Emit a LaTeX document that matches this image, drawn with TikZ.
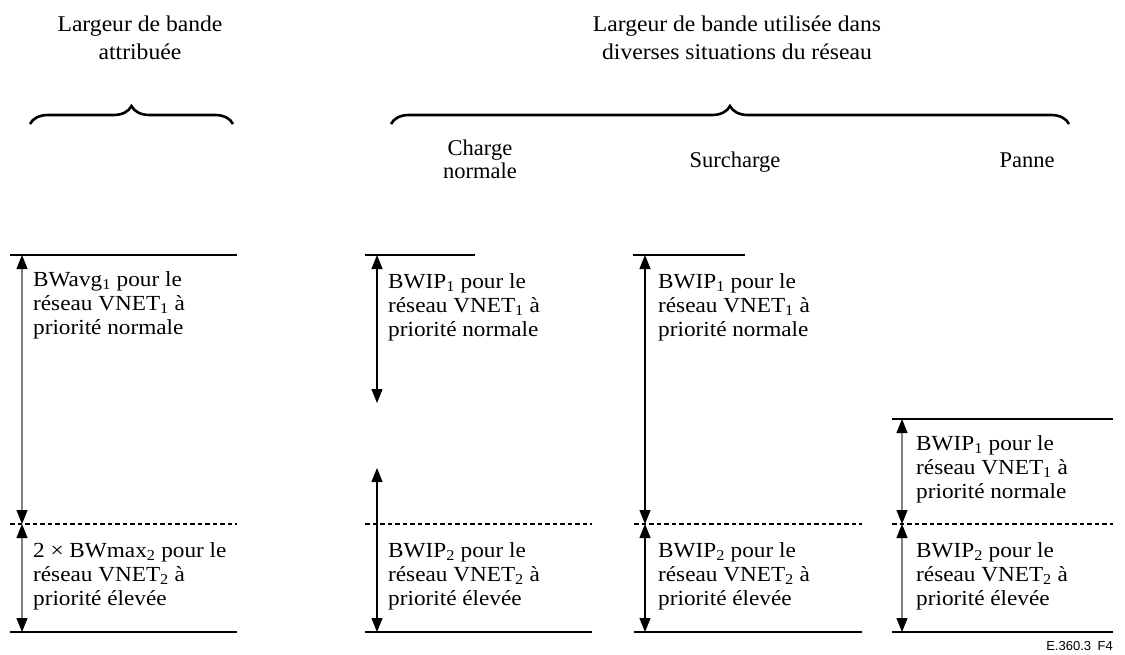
\documentclass[tikz,border=0pt]{standalone}
\usepackage{fontspec}
\setmainfont{Liberation Serif}
\newfontfamily\bodyfont[FakeStretch=1.08]{Liberation Serif}
\newfontfamily\hdfont[FakeStretch=1.05]{Liberation Serif}
\newfontfamily\colfont{Liberation Serif}
\newfontfamily\refsans{Liberation Sans}
\usetikzlibrary{arrows.meta,decorations.pathreplacing}
\newcommand{\mylines}[1]{\begin{tabular}[t]{@{}l@{}}#1\end{tabular}}
\newcommand{\mycenter}[1]{\begin{tabular}[t]{@{}c@{}}#1\end{tabular}}
\begin{document}
\begin{tikzpicture}[x=1pt,y=-1pt,
  lvl/.style={line width=2pt},
  dsh/.style={line width=1.5pt,dash pattern=on 4.5pt off 3pt},
  dimarrow/.style={line width=1.2pt,{Triangle[width=11pt,length=14pt,color=black]}-{Triangle[width=11pt,length=14pt,color=black]}},
  greyarrow/.style={dimarrow,draw=gray},
  blackarrow/.style={dimarrow,draw=black},
  body/.style={anchor=base west,inner sep=0pt,font=\bodyfont\fontsize{21.5}{24.3}\selectfont},
  head/.style={anchor=base,inner sep=0pt,font=\hdfont\fontsize{22.5}{28}\selectfont},
  colhead/.style={anchor=base,inner sep=0pt,font=\colfont\fontsize{22.5}{23}\selectfont},
  bracepath/.style={line width=2.6pt,decorate,decoration={brace,amplitude=18pt}}
]
\useasboundingbox (0,0) rectangle (1125,654);

% headers
\node[head] (h1) at (140,31) {\mycenter{Largeur de bande\\attribuée}};
\node[head] (h2) at (737,31) {\mycenter{Largeur de bande utilisée dans\\diverses situations du réseau}};
\coordinate (br1a) at (30,124);
\coordinate (br1b) at (233,124);
\coordinate (br2a) at (391,124);
\coordinate (br2b) at (1069,124);
\draw[bracepath] (br1a) -- (br1b);
\draw[bracepath] (br2a) -- (br2b);

\node[colhead] (c2) at (480,155) {\mycenter{Charge\\normale}};
\node[colhead] (c3) at (735,167) {Surcharge};
\node[colhead] (c4) at (1027,167) {Panne};

% column 1
\coordinate (t1a) at (10,255); \coordinate (t1b) at (237,255);
\coordinate (d1a) at (10,524); \coordinate (d1b) at (237,524);
\coordinate (b1a) at (10,632); \coordinate (b1b) at (237,632);
\draw[lvl] (t1a) -- (t1b);
\draw[dsh] (d1a) -- (d1b);
\draw[lvl] (b1a) -- (b1b);
\coordinate (a1t) at (22,255); \coordinate (a1m) at (22,524); \coordinate (a1b) at (22,632);
\draw[greyarrow] (a1t) -- (a1m);
\draw[greyarrow] (a1m) -- (a1b);
\node[body] (x1u) at (33,286) {\mylines{BWavg\textsubscript{1} pour le\\réseau VNET\textsubscript{1} à\\priorité normale}};
\node[body] (x1l) at (33,557) {\mylines{2 × BWmax\textsubscript{2} pour le\\réseau VNET\textsubscript{2} à\\priorité élevée}};

% column 2
\coordinate (t2a) at (365,255); \coordinate (t2b) at (475,255);
\coordinate (d2a) at (365,524); \coordinate (d2b) at (592,524);
\coordinate (b2a) at (365,632); \coordinate (b2b) at (592,632);
\draw[lvl] (t2a) -- (t2b);
\draw[dsh] (d2a) -- (d2b);
\draw[lvl] (b2a) -- (b2b);
\coordinate (a2t) at (377,255); \coordinate (a2e) at (377,403);
\coordinate (a2s) at (377,468); \coordinate (a2b) at (377,632);
\draw[blackarrow] (a2t) -- (a2e);
\draw[blackarrow] (a2s) -- (a2b);
\node[body] (x2u) at (388,288) {\mylines{BWIP\textsubscript{1} pour le\\réseau VNET\textsubscript{1} à\\priorité normale}};
\node[body] (x2l) at (388,557) {\mylines{BWIP\textsubscript{2} pour le\\réseau VNET\textsubscript{2} à\\priorité élevée}};

% column 3
\coordinate (t3a) at (633,255); \coordinate (t3b) at (745,255);
\coordinate (d3a) at (634,524); \coordinate (d3b) at (862,524);
\coordinate (b3a) at (634,632); \coordinate (b3b) at (862,632);
\draw[lvl] (t3a) -- (t3b);
\draw[dsh] (d3a) -- (d3b);
\draw[lvl] (b3a) -- (b3b);
\coordinate (a3t) at (645,255); \coordinate (a3m) at (645,524); \coordinate (a3b) at (645,632);
\draw[blackarrow] (a3t) -- (a3m);
\draw[blackarrow] (a3m) -- (a3b);
\node[body] (x3u) at (658,288) {\mylines{BWIP\textsubscript{1} pour le\\réseau VNET\textsubscript{1} à\\priorité normale}};
\node[body] (x3l) at (658,557) {\mylines{BWIP\textsubscript{2} pour le\\réseau VNET\textsubscript{2} à\\priorité élevée}};

% column 4
\coordinate (t4a) at (892,419); \coordinate (t4b) at (1113,419);
\coordinate (d4a) at (892,524); \coordinate (d4b) at (1113,524);
\coordinate (b4a) at (892,632); \coordinate (b4b) at (1113,632);
\draw[lvl] (t4a) -- (t4b);
\draw[dsh] (d4a) -- (d4b);
\draw[lvl] (b4a) -- (b4b);
\coordinate (a4t) at (902,419); \coordinate (a4m) at (902,524); \coordinate (a4b) at (902,632);
\draw[greyarrow] (a4t) -- (a4m);
\draw[greyarrow] (a4m) -- (a4b);
\node[body] (x4u) at (916,450) {\mylines{BWIP\textsubscript{1} pour le\\réseau VNET\textsubscript{1} à\\priorité normale}};
\node[body] (x4l) at (916,557) {\mylines{BWIP\textsubscript{2} pour le\\réseau VNET\textsubscript{2} à\\priorité élevée}};

\node[anchor=base east,inner sep=0pt,font=\refsans\fontsize{13}{15}\selectfont] (fig) at (1113,650) {E.360.3\enspace F4};
\end{tikzpicture}
\end{document}
